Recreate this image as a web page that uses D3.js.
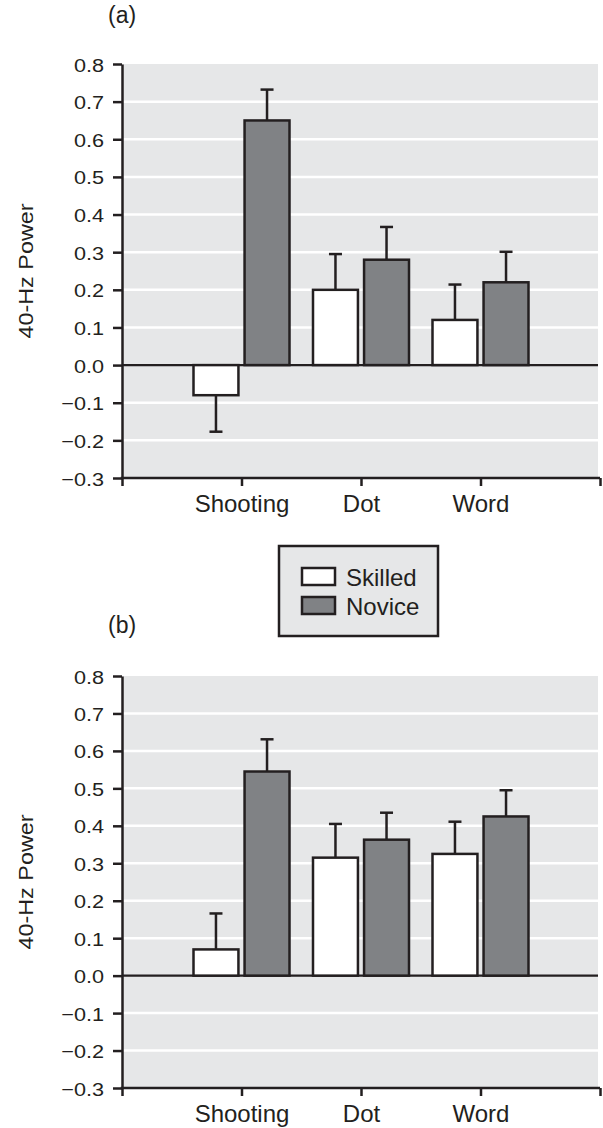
<!DOCTYPE html>
<html>
<head>
<meta charset="utf-8">
<script src="https://cdn.jsdelivr.net/npm/d3@7"></script>
<style>
  html, body { margin: 0; padding: 0; background: #ffffff; }
  svg { display: block; font-family: "Liberation Sans", Arial, Helvetica, sans-serif; }
</style>
</head>
<body>
<svg id="chart" width="603" height="1128"></svg>
<script>
// Categories and groups
const categories = ["Shooting", "Dot", "Word"];
const groups = ["Skilled", "Novice"];
const yTicks = [-0.3, -0.2, -0.1, 0.0, 0.1, 0.2, 0.3, 0.4, 0.5, 0.6, 0.7, 0.8];

// Panel (a): means and error-bar sizes
const skilledA = [-0.08, 0.20, 0.12];
const skilledErrA = [0.097, 0.095, 0.094];
const noviceA = [0.65, 0.28, 0.22];
const noviceErrA = [0.082, 0.087, 0.081];

// Panel (b): means and error-bar sizes
const skilledB = [0.07, 0.315, 0.325];
const skilledErrB = [0.096, 0.09, 0.086];
const noviceB = [0.545, 0.363, 0.425];
const noviceErrB = [0.086, 0.072, 0.07];

const INK = "#231f20";
const PANEL_BG = "#e6e7e8";
const NOVICE_FILL = "#808285";
const fills = { Skilled: "#ffffff", Novice: NOVICE_FILL };

const svg = d3.select("#chart");

function drawPanel(label, labelY, top, bottom, skilled, skilledErr, novice, noviceErr) {
  const left = 122, right = 600;
  const rows = categories.map((c, i) => ({
    cat: c,
    bars: [
      { group: "Skilled", value: skilled[i], err: skilledErr[i] },
      { group: "Novice", value: novice[i], err: noviceErr[i] }
    ]
  }));

  const y = d3.scaleLinear().domain([-0.3, 0.8]).range([bottom, top]);
  // Empty slots at both ends give the framed look of the axis
  const x = d3.scalePoint().domain(["_start", ...categories, "_end"]).range([left, right]);
  const xSub = d3.scaleBand().domain(groups).range([-48, 48]).paddingInner(0.12);

  const g = svg.append("g");

  // Panel letter
  g.append("text")
    .attr("x", 108).attr("y", labelY)
    .attr("font-size", 23).attr("fill", INK)
    .text(label);

  // Plot background
  g.append("rect")
    .attr("x", left).attr("y", y(0.8))
    .attr("width", right - 2 - left).attr("height", y(-0.3) - y(0.8))
    .attr("fill", PANEL_BG);

  // White gridlines
  g.append("g").selectAll("line")
    .data(yTicks.filter(t => t > -0.3 && t < 0.8 && Math.abs(t) > 1e-9))
    .join("line")
    .attr("x1", left).attr("x2", right - 2)
    .attr("y1", d => y(d)).attr("y2", d => y(d))
    .attr("stroke", "#ffffff").attr("stroke-width", 2.5);

  // Zero line
  g.append("line")
    .attr("x1", left).attr("x2", right - 2)
    .attr("y1", y(0)).attr("y2", y(0))
    .attr("stroke", INK).attr("stroke-width", 2.2);

  const cats = g.append("g").selectAll("g")
    .data(rows).join("g")
    .attr("transform", d => `translate(${x(d.cat)},0)`);

  // Error bars (drawn first so the bar outline sits on top)
  const eb = cats.selectAll("g.err")
    .data(d => d.bars).join("g").attr("class", "err");
  eb.append("line")
    .attr("x1", d => xSub(d.group) + xSub.bandwidth() / 2)
    .attr("x2", d => xSub(d.group) + xSub.bandwidth() / 2)
    .attr("y1", d => y(d.value))
    .attr("y2", d => y(d.value + Math.sign(d.value) * d.err))
    .attr("stroke", INK).attr("stroke-width", 2.5);
  eb.append("line")
    .attr("x1", d => xSub(d.group) + xSub.bandwidth() / 2 - 6.5)
    .attr("x2", d => xSub(d.group) + xSub.bandwidth() / 2 + 6.5)
    .attr("y1", d => y(d.value + Math.sign(d.value) * d.err))
    .attr("y2", d => y(d.value + Math.sign(d.value) * d.err))
    .attr("stroke", INK).attr("stroke-width", 2.5);

  // Bars
  cats.selectAll("rect")
    .data(d => d.bars).join("rect")
    .attr("x", d => xSub(d.group))
    .attr("width", xSub.bandwidth())
    .attr("y", d => y(Math.max(0, d.value)))
    .attr("height", d => Math.abs(y(d.value) - y(0)))
    .attr("fill", d => fills[d.group])
    .attr("stroke", INK).attr("stroke-width", 2.5);

  // Y axis
  const yAxis = g.append("g")
    .attr("transform", `translate(${left},0)`)
    .call(d3.axisLeft(y).tickValues(yTicks).tickFormat(d3.format(".1f")).tickSize(9).tickSizeOuter(0));
  yAxis.select(".domain").attr("stroke", INK).attr("stroke-width", 2.5);
  yAxis.selectAll(".tick line").attr("stroke", INK).attr("stroke-width", 2.5);
  yAxis.selectAll(".tick text")
    .attr("x", null).attr("dy", null)
    .attr("transform", "translate(-18,7) scale(1.14,1)")
    .attr("font-size", 19).attr("fill", INK)
    .attr("font-family", "'Liberation Sans', Arial, sans-serif");

  // X axis
  const xAxis = g.append("g")
    .attr("transform", `translate(0,${bottom})`)
    .call(d3.axisBottom(x).tickSize(8).tickSizeOuter(0)
      .tickFormat(d => d.startsWith("_") ? "" : d));
  xAxis.select(".domain").attr("stroke", INK).attr("stroke-width", 2.5)
    .attr("d", `M${left - 1.25},0H${right}`);
  xAxis.selectAll(".tick line").attr("stroke", INK).attr("stroke-width", 2.5);
  xAxis.selectAll(".tick text")
    .attr("y", 34).attr("dy", null)
    .attr("font-size", 24).attr("fill", INK)
    .attr("font-family", "'Liberation Sans', Arial, sans-serif");

  // Y-axis title
  const midY = (top + bottom) / 2;
  g.append("text")
    .attr("transform", `translate(33,${midY}) rotate(-90) scale(1.17,1)`)
    .attr("text-anchor", "middle")
    .attr("font-size", 20).attr("fill", INK)
    .text("40-Hz Power");
}

drawPanel("(a)", 23, 64, 478, skilledA, skilledErrA, noviceA, noviceErrA);
drawPanel("(b)", 633, 676, 1088, skilledB, skilledErrB, noviceB, noviceErrB);

// Legend
const legend = svg.append("g").attr("transform", "translate(279,546)");
legend.append("rect")
  .attr("width", 159).attr("height", 90)
  .attr("fill", PANEL_BG).attr("stroke", INK).attr("stroke-width", 2.5);
const items = legend.selectAll("g.item")
  .data(groups).join("g").attr("class", "item")
  .attr("transform", (d, i) => `translate(23,${22 + i * 29})`);
items.append("rect")
  .attr("width", 33).attr("height", 17)
  .attr("fill", d => fills[d]).attr("stroke", INK).attr("stroke-width", 2.5);
items.append("text")
  .attr("x", 44).attr("y", 18)
  .attr("font-size", 24).attr("fill", INK)
  .text(d => d);
</script>
</body>
</html>
